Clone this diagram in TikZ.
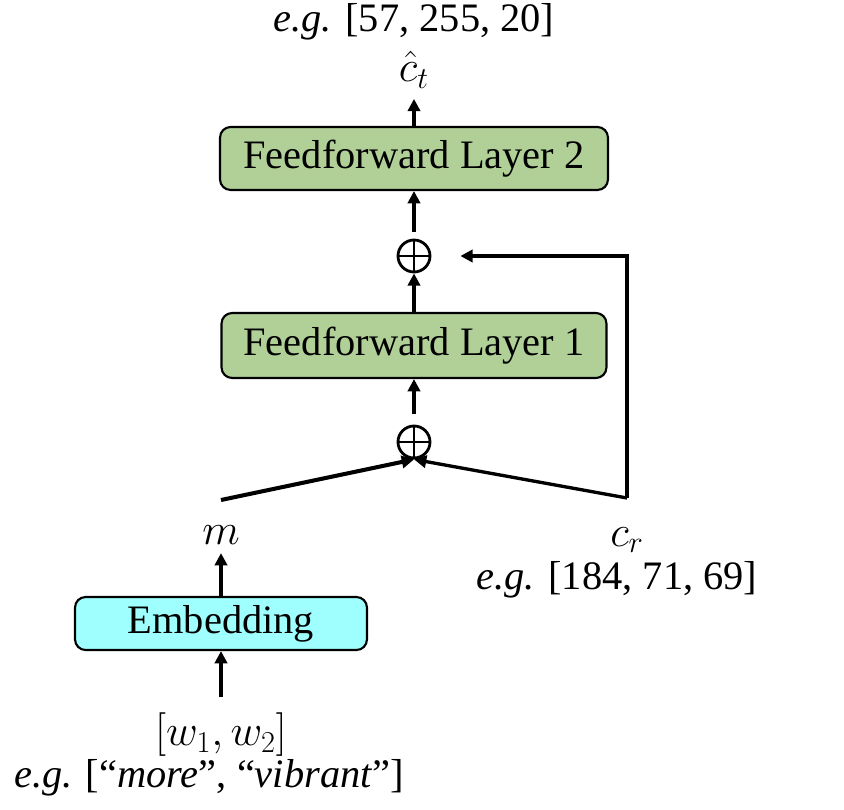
\documentclass[tikz,border=0pt]{standalone}
\usepackage{fontspec}
\setmainfont{Liberation Serif}[ItalicFont={Liberation Serif Italic}]
\usepackage{amsmath}
\usetikzlibrary{arrows.meta,positioning}
\definecolor{layergreen}{HTML}{B1D097}
\definecolor{embedcyan}{HTML}{9FFFFF}

\begin{document}
\begin{tikzpicture}[x=0.02cm, y=-0.02cm, line width=1.9pt,
  >={Triangle[length=7pt,width=7pt]},
  every node/.style={font=\fontsize{23}{27}\selectfont, inner sep=2pt},
  layer/.style={draw, line width=1.2pt, rounded corners=6pt, fill=layergreen,
    minimum width=7.76cm, minimum height=1.26cm},
  embed/.style={layer, fill=embedcyan, minimum width=5.84cm, minimum height=1.06cm},
  addop/.style={circle, draw, line width=1.6pt, minimum size=0.64cm, inner sep=0pt,
    path picture={\draw[line width=1.6pt]
      (path picture bounding box.north) -- (path picture bounding box.south)
      (path picture bounding box.west) -- (path picture bounding box.east);}}]
  \useasboundingbox (0,0) rectangle (844,810);
  % Output side
  \node (ex_ct) at (414,22) {\emph{e.g.} [57, 255, 20]};
  \node[inner sep=5pt] (ct) at (414,70) {$\hat{c}_t$};
  \node[layer] (ff2) at (414,158.5) {Feedforward Layer 2};
  \node[addop] (plus2) at (414,256) {};
  \node[layer, minimum width=7.7cm, minimum height=1.3cm] (ff1) at (414,345.5) {Feedforward Layer 1};
  \node[addop] (plus1) at (414,442) {};
  % Word input side
  \node[inner sep=4pt] (m) at (221,535) {$m$};
  \node[embed] (emb) at (221,623.5) {Embedding};
  \node[inner ysep=8pt] (w) at (221,735) {$[w_1, w_2]$};
  \node (ex_w) at (209,778) {\emph{e.g.} [“\emph{more}”, “\emph{vibrant}”]};
  % Reference colour
  \node (cr) at (627,540) {$c_r$};
  \node (ex_cr) at (617,580) {\emph{e.g.} [184, 71, 69]};
  \coordinate (mtop) at (221,500);
  \coordinate (crtop) at (627,498);
  % Connectors
  \draw[->] (ff2.north) -- (ct.south);
  \draw[->, shorten <=4pt] (plus2.north) -- (ff2.south);
  \draw[->] (ff1.north) -- (plus2.south);
  \draw[->, shorten <=6pt] (plus1.north) -- (ff1.south);
  \draw[->] (emb.north) -- (m.south);
  \draw[->] (w.north) -- (emb.south);
  \draw[->, line width=2.3pt] (mtop) -- (plus1.south);
  \draw[->] (crtop) -- (plus1.south);
  \draw[->] (crtop) |- ([xshift=0.58cm]plus2.east);
\end{tikzpicture}
\end{document}
